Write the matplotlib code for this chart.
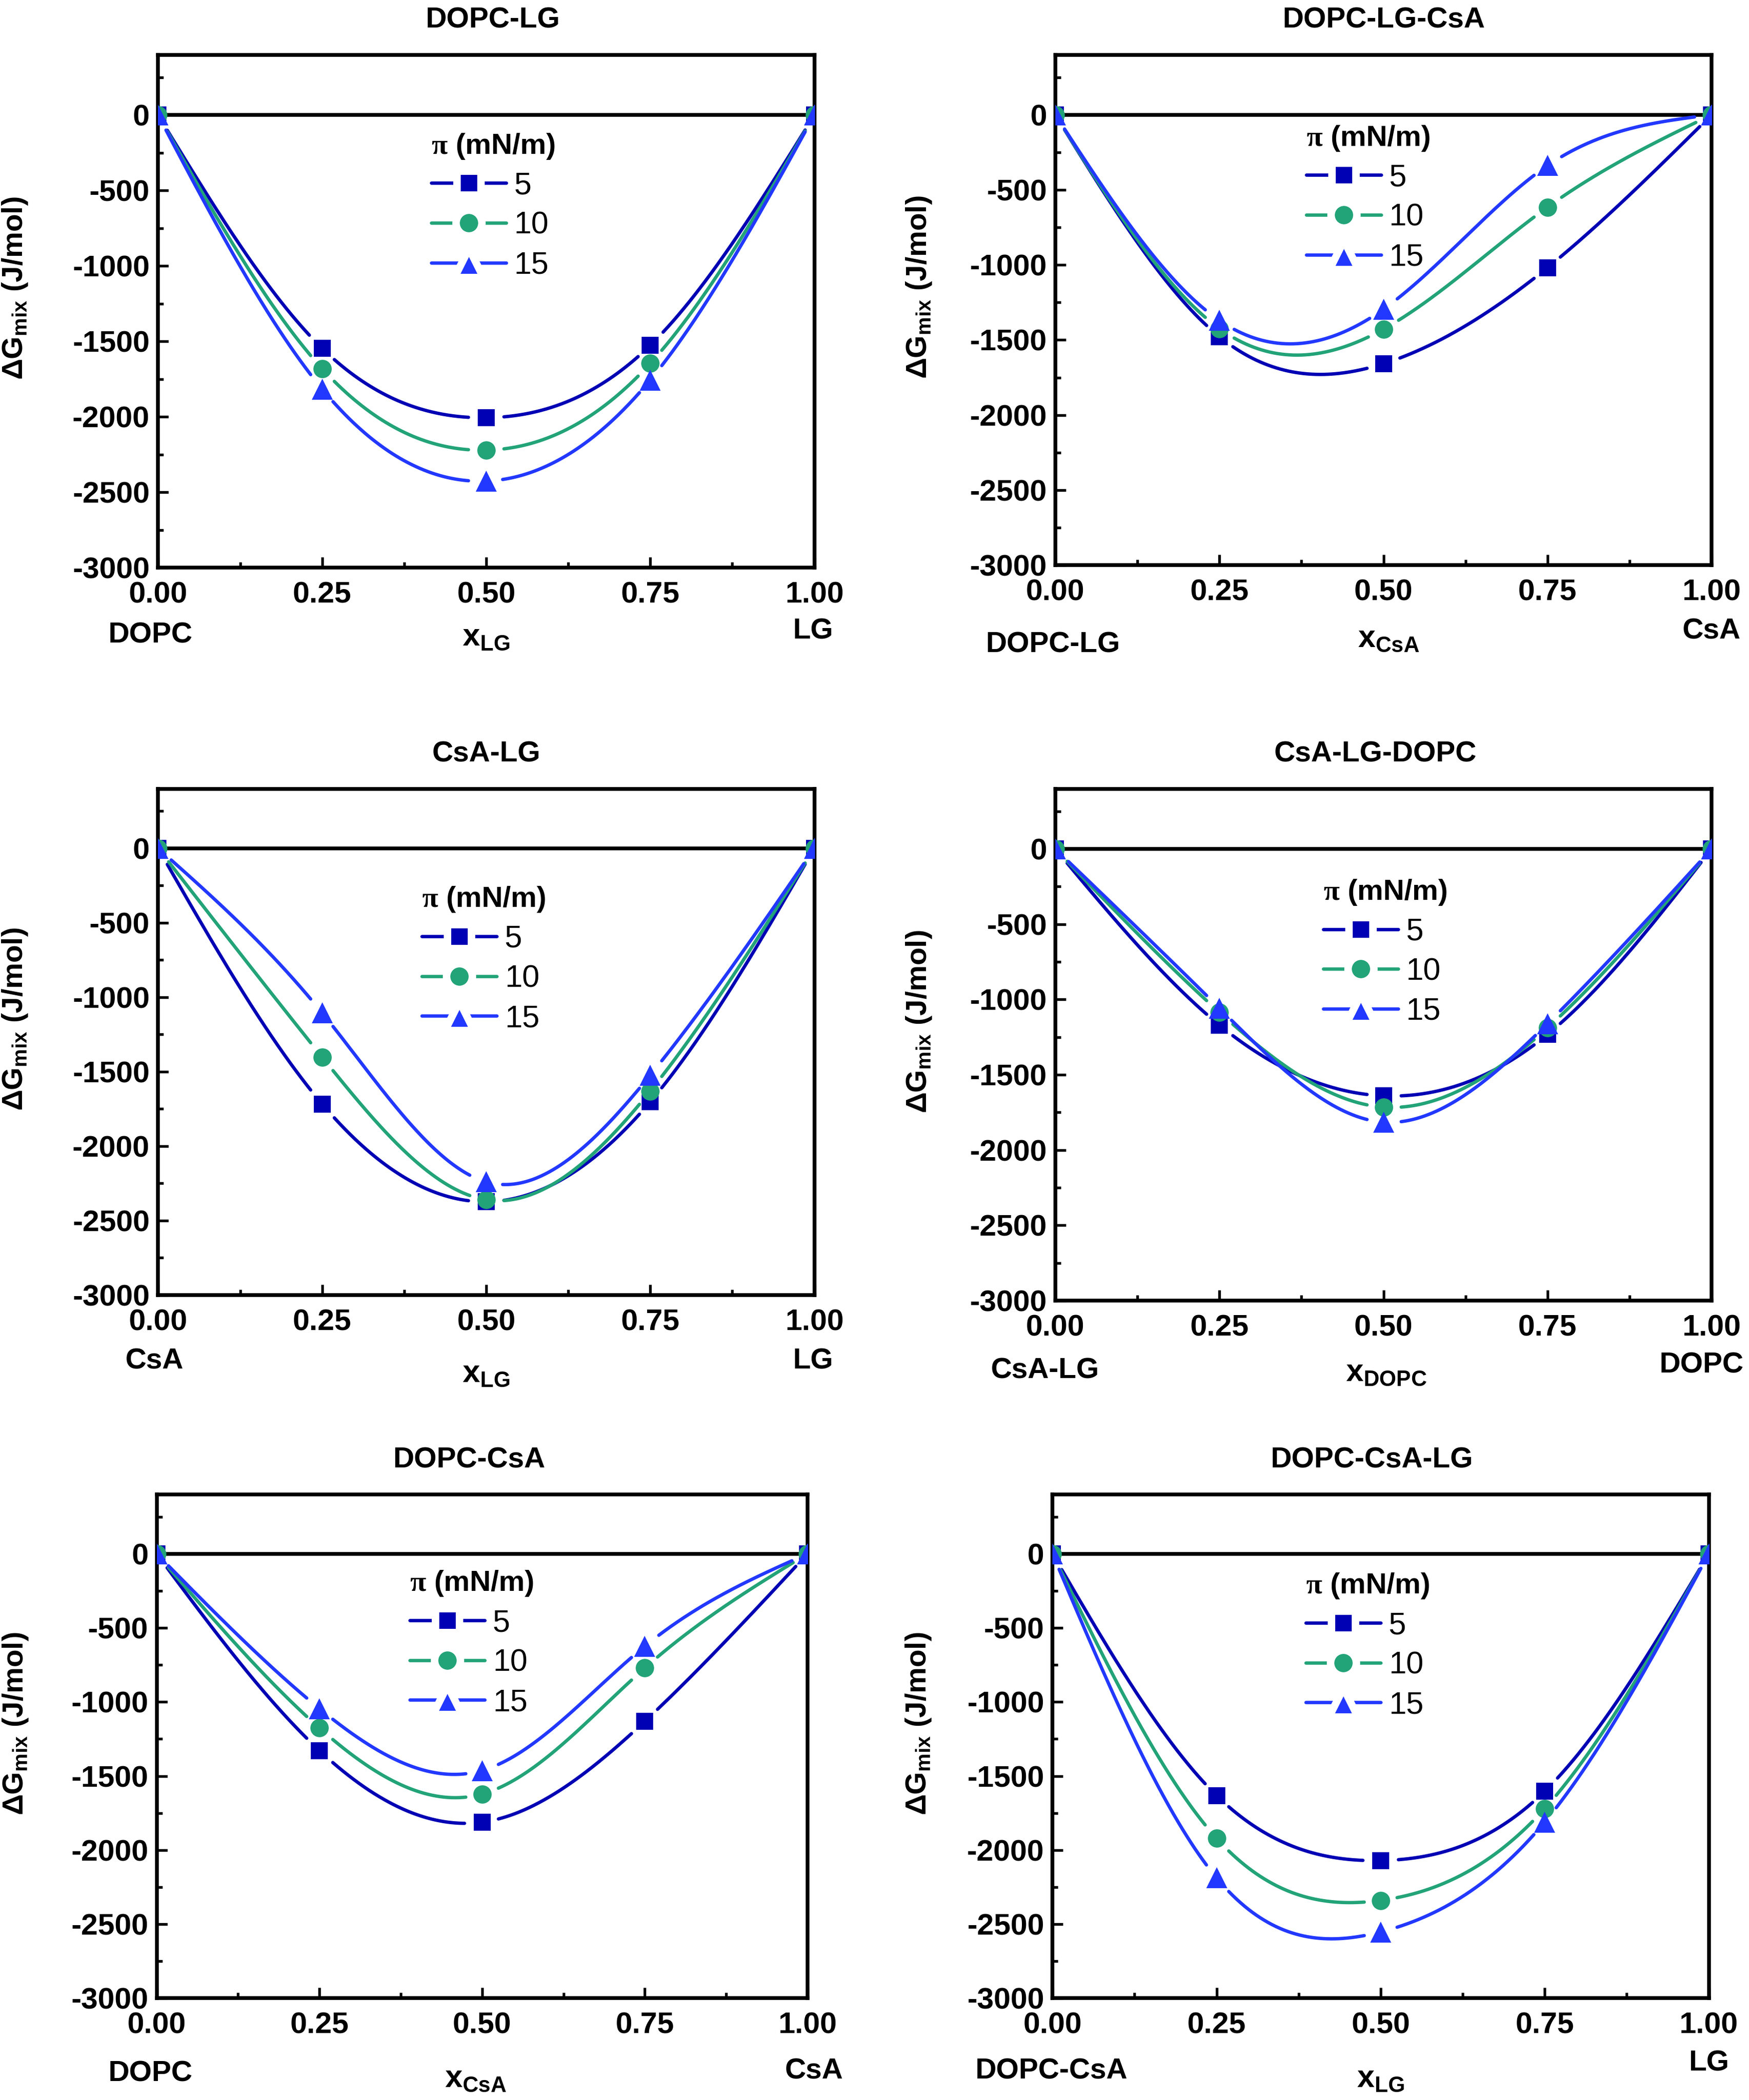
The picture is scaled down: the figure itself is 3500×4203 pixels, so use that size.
import numpy as np
import matplotlib
matplotlib.use('Agg')
import matplotlib.pyplot as plt
from matplotlib import font_manager
from matplotlib.lines import Line2D
from matplotlib.ticker import MultipleLocator, FormatStrFormatter

# ---- data ----
x_frac = [0.0, 0.25, 0.5, 0.75, 1.0]
pressures = ['5', '10', '15']

dopc_lg_5 = [0, -1545, -2005, -1525, 0]
dopc_lg_10 = [0, -1680, -2220, -1645, 0]
dopc_lg_15 = [0, -1815, -2425, -1755, 0]

dopc_lg_csa_5 = [0, -1478, -1658, -1018, 0]
dopc_lg_csa_10 = [0, -1424, -1428, -615, 0]
dopc_lg_csa_15 = [0, -1370, -1295, -338, 0]

csa_lg_5 = [0, -1717, -2373, -1702, 0]
csa_lg_10 = [0, -1402, -2360, -1630, 0]
csa_lg_15 = [0, -1105, -2240, -1523, 0]

csa_lg_dopc_5 = [0, -1170, -1640, -1232, 0]
csa_lg_dopc_10 = [0, -1085, -1715, -1188, 0]
csa_lg_dopc_15 = [0, -1058, -1815, -1160, 0]

dopc_csa_5 = [0, -1328, -1812, -1131, 0]
dopc_csa_10 = [0, -1176, -1622, -771, 0]
dopc_csa_15 = [0, -1045, -1463, -624, 0]

dopc_csa_lg_5 = [0, -1632, -2071, -1603, 0]
dopc_csa_lg_10 = [0, -1921, -2340, -1720, 0]
dopc_csa_lg_15 = [0, -2188, -2553, -1811, 0]

titles = ['DOPC-LG', 'DOPC-LG-CsA', 'CsA-LG', 'CsA-LG-DOPC', 'DOPC-CsA', 'DOPC-CsA-LG']
left_names = ['DOPC', 'DOPC-LG', 'CsA', 'CsA-LG', 'DOPC', 'DOPC-CsA']
right_names = ['LG', 'CsA', 'LG', 'DOPC', 'CsA', 'LG']
x_subs = ['LG', 'CsA', 'LG', 'DOPC', 'CsA', 'LG']

panels = [
    [dopc_lg_5, dopc_lg_10, dopc_lg_15],
    [dopc_lg_csa_5, dopc_lg_csa_10, dopc_lg_csa_15],
    [csa_lg_5, csa_lg_10, csa_lg_15],
    [csa_lg_dopc_5, csa_lg_dopc_10, csa_lg_dopc_15],
    [dopc_csa_5, dopc_csa_10, dopc_csa_15],
    [dopc_csa_lg_5, dopc_csa_lg_10, dopc_csa_lg_15],
]

colors = ['#0000B4', '#22A378', '#2238FF']
markers = ['s', 'o', '^']
msizes = [8.0, 8.8, 10.2]

# ---- fonts ----
def has_font(name):
    try:
        font_manager.findfont(name, fallback_to_default=False)
        return True
    except Exception:
        return False

narrow = 'Liberation Sans Narrow' if has_font('Liberation Sans Narrow') else 'Liberation Sans'
tick_size = 15.5 if narrow == 'Liberation Sans Narrow' else 14.5
name_size = 15.5 if narrow == 'Liberation Sans Narrow' else 14

plt.rcParams['font.family'] = [narrow, 'DejaVu Sans']
plt.rcParams['font.weight'] = 'bold'
plt.rcParams['axes.unicode_minus'] = False
plt.rcParams['mathtext.fontset'] = 'custom'
plt.rcParams['mathtext.rm'] = 'Liberation Serif'
plt.rcParams['mathtext.tt'] = 'Liberation Sans'
plt.rcParams['mathtext.bf'] = 'Liberation Sans:bold'
plt.rcParams['mathtext.sf'] = narrow + ':bold'


def natural_spline(xp, yp, n=500):
    xp = np.asarray(xp, float)
    yp = np.asarray(yp, float)
    k = len(xp)
    h = np.diff(xp)
    A = np.zeros((k, k))
    b = np.zeros(k)
    A[0, 0] = A[-1, -1] = 1
    for i in range(1, k - 1):
        A[i, i - 1] = h[i - 1]
        A[i, i] = 2 * (h[i - 1] + h[i])
        A[i, i + 1] = h[i]
        b[i] = 6 * ((yp[i + 1] - yp[i]) / h[i] - (yp[i] - yp[i - 1]) / h[i - 1])
    M = np.linalg.solve(A, b)
    xs = np.linspace(xp[0], xp[-1], n)
    idx = np.clip(np.searchsorted(xp, xs) - 1, 0, k - 2)
    x0, x1 = xp[idx], xp[idx + 1]
    hh = x1 - x0
    t0, t1 = x1 - xs, xs - x0
    ys = (M[idx] * t0 ** 3 + M[idx + 1] * t1 ** 3) / (6 * hh) \
        + (yp[idx] / hh - M[idx] * hh / 6) * t0 + (yp[idx + 1] / hh - M[idx + 1] * hh / 6) * t1
    return xs, ys


# ---- layout ----
dpi = 300
fig = plt.figure(figsize=(3500 / dpi, 4203 / dpi), dpi=dpi)
ax_pos = [
    [0.0904, 0.7296, 0.3752, 0.2443],
    [0.6034, 0.7309, 0.3752, 0.2430],
    [0.0904, 0.3833, 0.3752, 0.2411],
    [0.6034, 0.3807, 0.3752, 0.2437],
    [0.0896, 0.0485, 0.3721, 0.2398],
    [0.6018, 0.0485, 0.3752, 0.2398],
]
title_x = [0.51, 0.5, 0.5, 0.488, 0.48, 0.486]
leg_anchor = [(0.416, 0.850), (0.382, 0.865), (0.402, 0.810),
              (0.408, 0.826), (0.389, 0.852), (0.386, 0.847)]
ylab_x = [-0.196, -0.186, -0.196, -0.186, -0.195, -0.182]
name_y = [(-0.146, -0.138, -0.151), (-0.171, -0.144, -0.160), (-0.146, -0.146, -0.172),
          (-0.152, -0.141, -0.157), (-0.165, -0.160, -0.176), (-0.160, -0.144, -0.176)]
name_x = [(-0.012, 0.998, 0.5), (-0.004, 1.0, 0.508), (-0.006, 0.998, 0.5),
          (-0.016, 0.984, 0.504), (-0.01, 1.01, 0.49), (-0.002, 1.0, 0.5)]

ylim = (-3000, 400)
gap_px = 33

for p in range(6):
    ax = fig.add_axes(ax_pos[p])
    ax.set_xlim(0, 1)
    ax.set_ylim(*ylim)
    w_px = ax_pos[p][2] * 3500
    h_px = ax_pos[p][3] * 4203

    ax.axhline(0, color='black', lw=1.8, zorder=1)

    for s in range(3):
        ys_data = panels[p][s]
        xs, ys = natural_spline(x_frac, ys_data)
        # break the line around each symbol, like the original plot
        px = xs * w_px
        py = (ys - ylim[0]) / (ylim[1] - ylim[0]) * h_px
        mask = np.zeros_like(xs, dtype=bool)
        for xd, yd in zip(x_frac, ys_data):
            pxd = xd * w_px
            pyd = (yd - ylim[0]) / (ylim[1] - ylim[0]) * h_px
            mask |= np.hypot(px - pxd, py - pyd) < gap_px
        ys_m = ys.copy()
        ys_m[mask] = np.nan
        ax.plot(xs, ys_m, color=colors[s], lw=1.6, solid_capstyle='round', zorder=2)
        ax.plot(x_frac, ys_data, ls='none', marker=markers[s], ms=msizes[s],
                color=colors[s], mec=colors[s], mew=0, zorder=3 + s)

    for side in ax.spines.values():
        side.set_linewidth(1.8)
    ax.xaxis.set_major_locator(MultipleLocator(0.25))
    ax.xaxis.set_minor_locator(MultipleLocator(0.125))
    ax.yaxis.set_major_locator(MultipleLocator(500))
    ax.yaxis.set_minor_locator(MultipleLocator(250))
    ax.xaxis.set_major_formatter(FormatStrFormatter('%.2f'))
    ax.yaxis.set_major_formatter(FormatStrFormatter('%d'))
    ax.tick_params(which='both', direction='in', top=False, right=False, width=1.3)
    ax.tick_params(which='major', length=5, labelsize=tick_size)
    ax.tick_params(which='minor', length=2.6)
    ax.tick_params(axis='x', which='major', pad=6.5)
    ax.tick_params(axis='y', which='major', pad=4)

    ax.set_title(titles[p], fontsize=name_size, fontweight='bold', pad=13, x=title_x[p])

    ax.set_ylabel(r'$\mathtt{\Delta}$G$_{\mathbf{mix}}$ (J/mol)', family='Liberation Sans',
                  fontsize=14, fontweight='bold')
    ax.yaxis.set_label_coords(ylab_x[p], 0.545)

    ax.text(name_x[p][0], name_y[p][0], left_names[p], transform=ax.transAxes,
            ha='center', va='baseline', fontsize=name_size, fontweight='bold')
    ax.text(name_x[p][1], name_y[p][1], right_names[p], transform=ax.transAxes,
            ha='center', va='baseline', fontsize=name_size, fontweight='bold')
    ax.text(name_x[p][2], name_y[p][2], 'x$_{\\mathsf{' + x_subs[p] + '}}$',
            transform=ax.transAxes, ha='center', va='baseline',
            fontsize=name_size + 1, fontweight='bold')

    handles = []
    for s in range(3):
        handles.append(Line2D([], [], color=colors[s], lw=1.6, solid_capstyle='round',
                              marker=markers[s], ms=msizes[s] + 3.6, mfc=colors[s],
                              mec='white', mew=3.6))
    leg = ax.legend(handles, pressures, title=r'$\mathrm{\pi}$ (mN/m)',
                    loc='upper left', bbox_to_anchor=leg_anchor[p], frameon=False,
                    borderpad=0, borderaxespad=0, handlelength=2.4, handletextpad=0.25,
                    labelspacing=0.33, numpoints=1, alignment='left',
                    prop={'family': 'Liberation Sans', 'weight': 'normal', 'size': 15},
                    title_fontproperties={'family': narrow, 'weight': 'bold', 'size': 14})
    leg.set_zorder(10)

fig.savefig('out.png', dpi=dpi)
